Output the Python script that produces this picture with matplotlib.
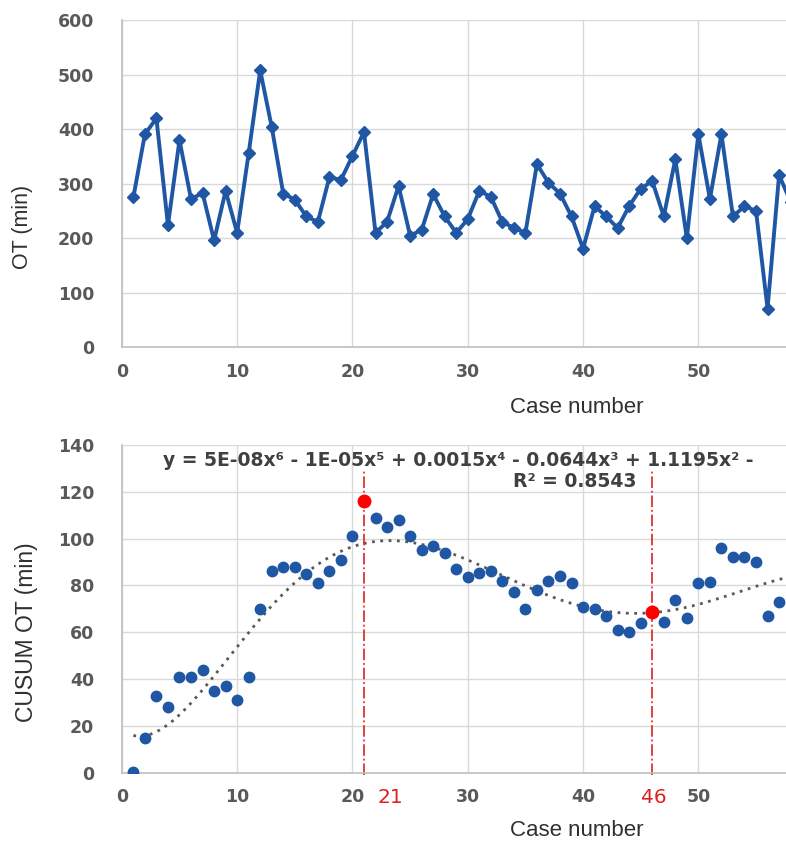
import numpy as np
import matplotlib
matplotlib.use("Agg")
import matplotlib.pyplot as plt
from matplotlib.transforms import blended_transform_factory

# operating time per case (min)
case_ot = list(range(1, 59))
ot_min = [275, 391, 420, 224, 380, 272, 283, 196, 287, 210,
          356, 508, 404, 282, 271, 240, 230, 312, 307, 351,
          395, 210, 230, 296, 205, 215, 281, 240, 210, 235,
          287, 276, 230, 219, 210, 336, 302, 282, 240, 181,
          259, 240, 219, 259, 291, 305, 240, 345, 200, 391,
          272, 391, 240, 259, 250, 71, 316, 267]

# cusum of OT
case_cusum = list(range(1, 58))
cusum_ot = [0.5, 15, 33, 28, 41, 41, 44, 35, 37, 31,
            41, 70, 86, 88, 88, 85, 81, 86, 91, 101,
            116, 109, 105, 108, 101, 95, 97, 94, 87, 83.5,
            85.5, 86, 82, 77, 70, 78, 82, 84, 81, 71,
            70, 67, 61, 60, 64, 68.5, 64.5, 74, 66, 81,
            81.5, 96, 92, 92, 90, 67, 73]
turn_points = [21, 46]

# polynomial trendline
trend_x = [1.0, 4.9, 7.8, 10.1, 12.1, 15.0, 17.9, 20.5, 22.2, 24.5, 26.2,
           28.5, 31.1, 33.7, 36.3, 39.2, 42.1, 44.9, 47.8, 50.7, 53.6, 57.3]
trend_y = [15.6, 25.6, 39.8, 52.6, 68.2, 80.3, 91.0, 98.0, 99.5, 99.2, 97.4,
           93.5, 88.4, 82.4, 76.8, 71.8, 69.2, 68.2, 70.4, 72.5, 76.8, 83.2]

eq_text = ("y = 5E-08x\u2076 - 1E-05x\u2075 + 0.0015x\u2074 - 0.0644x\u00b3 "
           "+ 1.1195x\u00b2 - ")
r2_text = "R\u00b2 = 0.8543"

blue = "#1f57a4"
grey_txt = "#595959"
grid_c = "#d9d9d9"

fig = plt.figure(figsize=(7.86, 8.41), dpi=100)
ax1 = fig.add_axes([0.155, 0.587, 0.845, 0.389])
ax2 = fig.add_axes([0.155, 0.081, 0.845, 0.390])

for ax in (ax1, ax2):
    ax.grid(True, color=grid_c, linewidth=1)
    ax.set_axisbelow(True)
    for s in ("top", "right"):
        ax.spines[s].set_visible(False)
    for s in ("left", "bottom"):
        ax.spines[s].set_color("#bfbfbf")
        ax.spines[s].set_linewidth(1.2)
    ax.tick_params(length=0, colors=grey_txt, labelsize=12.5)
    ax.tick_params(axis="y", pad=20)
    ax.tick_params(axis="x", pad=11)
    ax.set_xlim(0, 57.6)
    ax.set_xticks(range(0, 60, 10))
    ax.set_xticklabels(["0", "10", "20", "30", "40", "50"])

# top panel
ax1.plot(case_ot, ot_min, color=blue, linewidth=2.8, marker="D",
         markersize=6.5, clip_on=True)
ax1.set_ylim(0, 600)
ax1.set_yticks(range(0, 700, 100))

# bottom panel
coef = np.polyfit(trend_x, trend_y, 6)
xs = np.linspace(1, 58, 300)
ax2.plot(xs, np.polyval(coef, xs), color="#595959", linestyle=(0, (1, 2)),
         linewidth=2)
ax2.plot(case_cusum, cusum_ot, "o", color=blue, markersize=7.5, zorder=3)
for tp in turn_points:
    ax2.plot([tp, tp], [-1, 129], color="#e03030", linestyle="-.",
             linewidth=1.3, zorder=2, clip_on=False)
    ax2.plot(tp, cusum_ot[tp - 1], "o", color="#ff0000", markersize=9,
             zorder=4)
ax2.set_ylim(0, 140)
ax2.set_yticks(range(0, 160, 20))

for ax in (ax1, ax2):
    for lab in ax.get_xticklabels() + ax.get_yticklabels():
        lab.set_fontweight("bold")

tr = blended_transform_factory(ax2.transData, ax2.transAxes)
ax2.text(23.3, -0.075, "21", color="#e02020", fontsize=14.5, ha="center",
         va="center", transform=tr)
ax2.text(46.1, -0.075, "46", color="#e02020", fontsize=14.5, ha="center",
         va="center", transform=tr)

ax2.text(3.6, 133.4, eq_text, fontsize=13.5, color="#404040", va="center",
         ha="left", fontweight="bold")
ax2.text(39.3, 124.4, r2_text, fontsize=13.5, color="#404040", va="center",
         ha="center", fontweight="bold")

lab_font = dict(family="Liberation Sans", color="#303030")
fig.text(0.029, 0.730, "OT (min)", fontsize=15.5, rotation=90, ha="center",
         va="center", **lab_font)
fig.text(0.034, 0.2485, "CUSUM OT (min)", fontsize=16.5, rotation=90,
         ha="center", va="center", **lab_font)
fig.text(0.734, 0.516, "Case number", fontsize=16, ha="center", va="center",
         **lab_font)
fig.text(0.734, 0.013, "Case number", fontsize=16, ha="center", va="center",
         **lab_font)

fig.savefig("out.png", dpi=100)
